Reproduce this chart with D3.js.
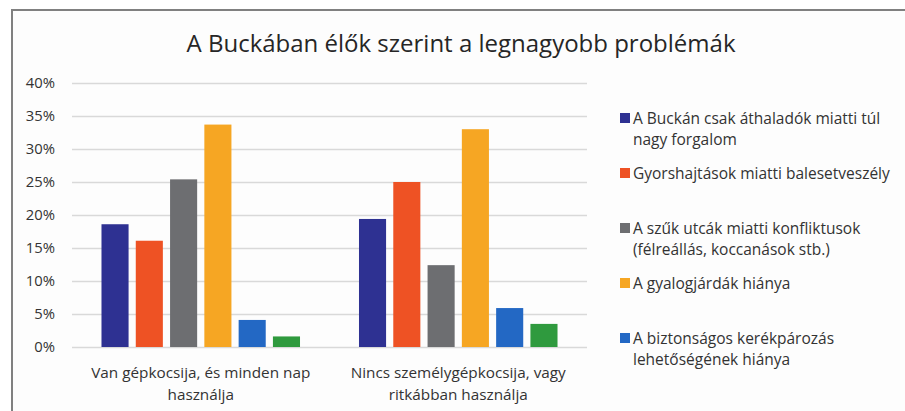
<!DOCTYPE html>
<html>
<head>
<meta charset="utf-8">
<script src="https://cdn.jsdelivr.net/npm/d3@7"></script>
<style>
  body { margin: 0; background: #fff; }
  svg { display: block; font-family: "Open Sans", Lato, sans-serif; }
</style>
</head>
<body>
<svg id="chart_svg" width="905" height="411"></svg>
<script>
const categories = [
  ["Van gépkocsija, és minden nap", "használja"],
  ["Nincs személygépkocsija, vagy", "ritkábban használja"],
];
const seriesNames = [
  ["A Buckán csak áthaladók miatti túl", "nagy forgalom"],
  ["Gyorshajtások miatti balesetveszély"],
  ["A szűk utcák miatti konfliktusok", "(félreállás, koccanások stb.)"],
  ["A gyalogjárdák hiánya"],
  ["A biztonságos kerékpározás", "lehetőségének hiánya"],
  null, // sixth series, its legend entry is cut off in the picture
];
const seriesColors = ["#2e3192", "#ee5224", "#6d6e71", "#f6a623", "#2368c4", "#2f9a3e"];
// values in %, one array per category, in series order
const carDaily = [18.6, 16.1, 25.4, 33.7, 4.1, 1.6];
const noCar = [19.4, 25.0, 12.4, 33.0, 5.9, 3.5];
const yTicks = [0, 5, 10, 15, 20, 25, 30, 35, 40];

const values = [carDaily, noCar];
const margin = { top: 83, right: 318, bottom: 64, left: 72 };
const width = 905, height = 411;

const svg = d3.select("#chart_svg");

// frame
svg.append("rect")
  .attr("x", 12).attr("y", 10)
  .attr("width", width + 40).attr("height", height + 40)
  .attr("fill", "#fdfdfd")
  .attr("stroke", "#808080")
  .attr("stroke-width", 2);

svg.append("text")
  .attr("x", 461).attr("y", 52)
  .attr("text-anchor", "middle")
  .attr("font-size", 24)
  .attr("fill", "#262626")
  .text("A Buckában élők szerint a legnagyobb problémák");

const x0 = d3.scaleBand()
  .domain(d3.range(categories.length))
  .range([margin.left, width - margin.right]);

const x1 = d3.scaleBand()
  .domain(d3.range(seriesColors.length))
  .range([0, x0.bandwidth()])
  .paddingInner(0.21)
  .paddingOuter(0.86);

const y = d3.scaleLinear()
  .domain([0, 40])
  .range([height - margin.bottom, margin.top]);

const yAxis = svg.append("g")
  .attr("transform", `translate(${margin.left}, 0)`)
  .call(d3.axisLeft(y).tickValues(yTicks).tickSize(-(width - margin.left - margin.right)).tickFormat(d => d + "%").tickPadding(17));
yAxis.select(".domain").remove();
yAxis.selectAll(".tick line").attr("stroke", "#d9d9d9").attr("stroke-width", 1.3);
yAxis.selectAll(".tick text")
  .attr("font-family", "'Open Sans', sans-serif")
  .attr("font-size", 14.8)
  .attr("fill", "#333");

const groups = svg.selectAll(".grp")
  .data(values)
  .enter()
  .append("g")
  .attr("class", "grp")
  .attr("transform", (d, i) => `translate(${x0(i)}, 0)`);

groups.selectAll("rect")
  .data(d => d)
  .enter()
  .append("rect")
  .attr("x", (d, i) => x1(i))
  .attr("y", d => y(d))
  .attr("width", x1.bandwidth())
  .attr("height", d => y(0) - y(d))
  .attr("fill", (d, i) => seriesColors[i]);

// category labels
categories.forEach((lines, i) => {
  const t = svg.append("text")
    .attr("text-anchor", "middle")
    .attr("font-size", 15.3)
    .attr("fill", "#333");
  lines.forEach((line, j) => {
    t.append("tspan")
      .attr("x", x0(i) + x0.bandwidth() / 2)
      .attr("y", 378 + j * 22)
      .text(line);
  });
});

// legend
const legend = svg.append("g").attr("transform", "translate(620, 118)");
seriesNames.forEach((lines, i) => {
  if (!lines) return;
  const item = legend.append("g").attr("transform", `translate(0, ${i * 55})`);
  item.append("rect")
    .attr("x", 0).attr("y", -5)
    .attr("width", 10).attr("height", 10)
    .attr("fill", seriesColors[i]);
  const t = item.append("text")
    .attr("font-size", 15.5)
    .attr("fill", "#333");
  lines.forEach((line, j) => {
    t.append("tspan")
      .attr("x", 13)
      .attr("y", 5.5 + j * 21)
      .text(line);
  });
});
</script>
</body>
</html>
